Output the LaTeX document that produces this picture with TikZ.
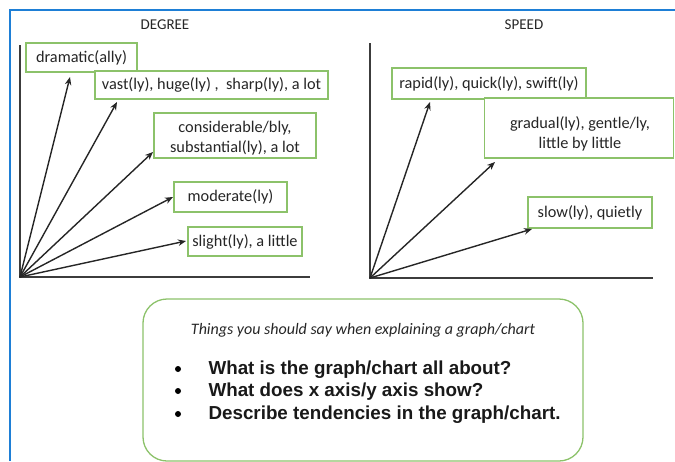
\documentclass[tikz,border=0pt]{standalone}
\usepackage{fontspec}
\setmainfont{Carlito}
\newfontfamily\arialbold[Scale=1]{Liberation Sans}
\usetikzlibrary{arrows.meta}
\definecolor{frameblue}{HTML}{1E7FD6}
\definecolor{boxgreen}{HTML}{8CC26A}
\definecolor{axisgray}{HTML}{3C3C3C}
\tikzset{
  lbl/.style={draw=boxgreen, line width=1.3pt, fill=white, inner sep=2pt, align=center, font=\fontsize{16.3}{19}\selectfont, text=black!85},
  ltxt/.style={inner sep=0pt, align=center, font=\fontsize{16.3}{19.5}\selectfont, text=black!85},
  vec/.style={draw=black!85, line width=1.4pt, -{Stealth[length=8pt,width=6.5pt]}},
  axis/.style={draw=axisgray, line width=1.3pt},
  ttl/.style={font=\fontsize{15}{17}\selectfont, text=black!85},
  qtxt/.style={font=\arialbold\bfseries\fontsize{18.8}{22}\selectfont, anchor=west, text=black!90},
}
\begin{document}
\begin{tikzpicture}[x=1pt,y=-1pt]
\useasboundingbox (0,0) rectangle (675,461);
% frame
\draw[frameblue, line width=2pt] (9.5,461) -- (9.5,10) -- (675,10);
% titles
\node[ttl] (tdeg) at (165,25) {DEGREE};
\node[ttl] (tspd) at (524,25) {SPEED};
% left axes
\coordinate (O1) at (20,277);
\coordinate (Y1) at (20,45);
\coordinate (X1) at (310,277);
\draw[axis] (Y1) -- (O1) -- (X1);
% right axes
\coordinate (O2) at (370,278);
\coordinate (Y2) at (370,43);
\coordinate (X2) at (653,278);
\draw[axis] (Y2) -- (O2) -- (X2);
% left labels
\node[lbl, minimum width=111pt, minimum height=29pt] (dram) at (81.5,57.5) {dramatic(ally)};
\node[lbl, minimum width=233pt, minimum height=28pt] (vast) at (211.5,85) {vast(ly), huge(ly) ,\ \ sharp(ly), a lot};
\node[lbl, minimum width=162pt, minimum height=45pt] (cons) at (235,135.5) {};
\node[ltxt] (consT) at (235,138) {considerable/bly,\\substantial(ly), a lot};
\node[lbl, minimum width=113pt, minimum height=30pt] (mod) at (230.5,197) {moderate(ly)};
\node[lbl, minimum width=114pt, minimum height=29pt] (sli) at (245,241.5) {slight(ly), a little};
% right labels
\node[lbl, minimum width=194pt, minimum height=31pt] (rap) at (489,83.5) {rapid(ly), quick(ly), swift(ly)};
\node[lbl, minimum width=189pt, minimum height=60pt] (grad) at (579,128) {};
\node[ltxt] (gradT) at (580,134) {gradual(ly), gentle/ly,\\little by little};
\node[lbl, minimum width=124pt, minimum height=31pt] (slow) at (590,212.5) {slow(ly), quietly};
% arrow tips
\coordinate (t1) at (70,77);
\coordinate (t2) at (117,102);
\coordinate (t3) at (153,152);
\coordinate (t4) at (173,197);
\coordinate (t5) at (186,241);
\coordinate (t6) at (430,102);
\coordinate (t7) at (495,162);
\coordinate (t8) at (532,229);
\foreach \t in {t1,t2,t3,t4,t5} \draw[vec] (O1) -- (\t);
\foreach \t in {t6,t7,t8} \draw[vec] (O2) -- (\t);
% bottom box
\node[draw=boxgreen, line width=1.3pt, rounded corners=24pt, minimum width=440pt, minimum height=162pt] (box) at (363,380) {};
\node[font=\fontsize{16}{18}\selectfont\itshape, text=black!85] (hdr) at (363,330) {Things you should say when explaining a graph/chart};
\node[qtxt] (q1) at (205,370) {What is the graph/chart all about?};
\node[qtxt] (q2) at (205,392) {What does x axis/y axis show?};
\node[qtxt] (q3) at (205,415) {Describe tendencies in the graph/chart.};
\fill[black] (178,369) circle (3pt) (178,391) circle (3pt) (178,414) circle (3pt);
\end{tikzpicture}
\end{document}
